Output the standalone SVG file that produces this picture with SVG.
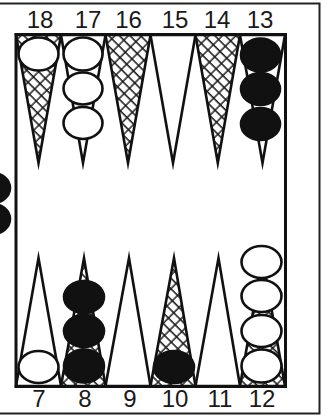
<svg xmlns="http://www.w3.org/2000/svg" width="325" height="416" viewBox="0 0 325 416">
<style>
.lbl{font-family:"Liberation Sans",Arial,sans-serif;font-size:24px;fill:#1a1a1a;text-anchor:middle}
.tri{stroke:#111;stroke-width:2.6;stroke-linejoin:miter;stroke-miterlimit:20}
.plain{fill:#fff}
.hat{fill:url(#hatch)}
.w{fill:#fff;stroke:#111;stroke-width:2.6}
.b{fill:#111;stroke:#111;stroke-width:2.6}
</style>
<defs>
<pattern id="hatch" width="9.5" height="7.5" patternUnits="userSpaceOnUse" patternTransform="rotate(45)">
<rect width="9.5" height="7.5" fill="#fff"/>
<path d="M0 0.8H9.5" stroke="#111" stroke-width="1.5"/>
<path d="M2 0.8V8.3" stroke="#111" stroke-width="1.4"/>
</pattern>
</defs>
<rect width="325" height="416" fill="#fff"/>
<rect id="frame" x="-20" y="3.5" width="339.5" height="410" fill="none" stroke="#222" stroke-width="2"/>
<g id="bar">
<ellipse class="b" cx="-9" cy="188" rx="19" ry="15.5"/>
<ellipse class="b" cx="-9" cy="219" rx="19" ry="15.5"/>
</g>
<g id="point18">
<path class="tri hat" d="M16 35L61 35L38.5 163Z"/>
<ellipse class="w" cx="38.5" cy="54" rx="20" ry="16.5"/>
<text class="lbl" x="40" y="28">18</text>
</g>
<g id="point17">
<path class="tri plain" d="M61 35L105.5 35L83 163Z"/>
<ellipse class="w" cx="83" cy="54" rx="19.5" ry="16.5"/>
<ellipse class="w" cx="83" cy="88.5" rx="19.5" ry="16"/>
<ellipse class="w" cx="83" cy="123" rx="19.5" ry="16"/>
<text class="lbl" x="88" y="28">17</text>
</g>
<g id="point16">
<path class="tri hat" d="M105.5 35L150.5 35L128 163Z"/>
<text class="lbl" x="128.5" y="28">16</text>
</g>
<g id="point15">
<path class="tri plain" d="M150.5 35L195.5 35L173 163Z"/>
<text class="lbl" x="175" y="28">15</text>
</g>
<g id="point14">
<path class="tri hat" d="M195.5 35L240 35L217.8 163Z"/>
<text class="lbl" x="217" y="28">14</text>
</g>
<g id="point13">
<path class="tri plain" d="M240 35L285 35L262.5 163Z"/>
<ellipse class="b" cx="260.5" cy="55" rx="19.5" ry="16.5"/>
<ellipse class="b" cx="260.5" cy="89" rx="19.5" ry="16"/>
<ellipse class="b" cx="260.5" cy="124" rx="19.5" ry="16"/>
<text class="lbl" x="260" y="28">13</text>
</g>
<g id="point7">
<path class="tri plain" d="M16 386L61 386L38.5 258Z"/>
<ellipse class="w" cx="38.5" cy="367" rx="20" ry="16"/>
<text class="lbl" x="39" y="407">7</text>
</g>
<g id="point8">
<path class="tri hat" d="M61 386L105.5 386L84 258Z"/>
<ellipse class="b" cx="84" cy="297" rx="20" ry="16"/>
<ellipse class="b" cx="84" cy="331" rx="20" ry="16"/>
<ellipse class="b" cx="84" cy="366" rx="20" ry="16.5"/>
<text class="lbl" x="85" y="407">8</text>
</g>
<g id="point9">
<path class="tri plain" d="M105.5 386L150.5 386L129 258Z"/>
<text class="lbl" x="130" y="407">9</text>
</g>
<g id="point10">
<path class="tri hat" d="M150.5 386L195.5 386L174 258Z"/>
<ellipse class="b" cx="174" cy="367" rx="20" ry="16"/>
<text class="lbl" x="175" y="407">10</text>
</g>
<g id="point11">
<path class="tri plain" d="M195.5 386L240 386L218.5 258Z"/>
<text class="lbl" x="220" y="407">11</text>
</g>
<g id="point12">
<path class="tri hat" d="M240 386L285 386L262.5 258Z"/>
<ellipse class="w" cx="261.5" cy="262" rx="20" ry="16"/>
<ellipse class="w" cx="261.5" cy="296" rx="20" ry="16"/>
<ellipse class="w" cx="261.5" cy="331" rx="20" ry="16"/>
<ellipse class="w" cx="261.5" cy="366" rx="20" ry="16.5"/>
<text class="lbl" x="262" y="407">12</text>
</g>
<rect id="board" x="16" y="34.5" width="269.5" height="352" fill="none" stroke="#111" stroke-width="3"/>
</svg>
